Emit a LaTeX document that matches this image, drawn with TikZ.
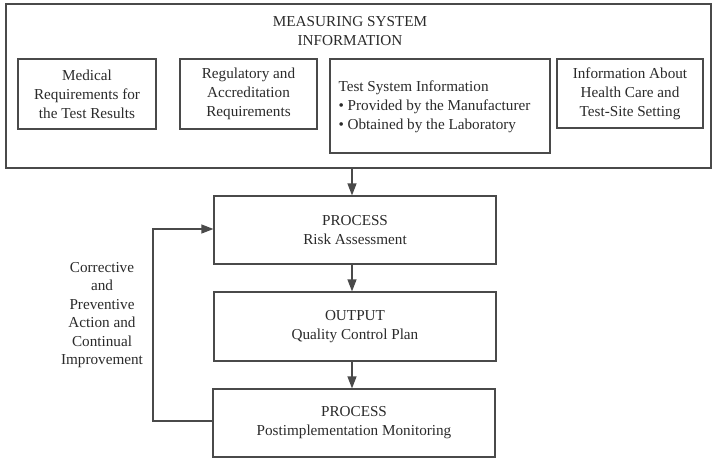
\documentclass[tikz,border=0pt]{standalone}
\usepackage{fontspec}
\setmainfont{Liberation Serif}
\usetikzlibrary{arrows.meta}
\definecolor{ln}{HTML}{4A4A4A}
\definecolor{tx}{HTML}{2A2A2A}
\begin{document}
\begin{tikzpicture}[x=1pt,y=-1pt,
  box/.style={draw=ln,line width=1.2pt,text=tx,align=center,inner sep=0pt,font=\fontsize{15.2}{19}\selectfont},
  lbl/.style={text=tx,align=center,font=\fontsize{15.2}{19}\selectfont},
  conn/.style={draw=ln,line width=1.2pt,-{Triangle[length=12pt,width=9pt]}}]
\useasboundingbox (0,0) rectangle (718,461);
% outer frame
\node[box,minimum width=705,minimum height=164] (outer) at (358.5,86) {};
\node[lbl] (title) at (350,31) {MEASURING SYSTEM\\INFORMATION};
\node[box,minimum width=138,minimum height=70] (med) at (87,94) {Medical\\Requirements for\\the Test Results};
\node[box,minimum width=137,minimum height=70] (reg) at (248.5,94) {Regulatory and\\Accreditation\\Requirements};
\node[box,minimum width=220,minimum height=94] (tsi) at (440,106) {};
\node[lbl,align=left,anchor=north west] (tsitext) at (335,77) {Test System Information\\
\textbullet\ Provided by the Manufacturer\\
\textbullet\ Obtained by the Laboratory};
\node[box,minimum width=146,minimum height=69] (hc) at (630,93.5) {Information About\\Health Care and\\Test-Site Setting};
% process column
\node[box,minimum width=282,minimum height=68] (p1) at (355,230) {PROCESS\\Risk Assessment};
\node[box,minimum width=282,minimum height=69] (out) at (355,326.5) {OUTPUT\\Quality Control Plan};
\node[box,minimum width=282,minimum height=68] (p2) at (354,423) {PROCESS\\Postimplementation Monitoring};
\coordinate (fb1) at (153,421);
\coordinate (fb2) at (153,229);
\node[lbl,font=\fontsize{15.2}{18.5}\selectfont] (fbl) at (102,315) {Corrective\\and\\Preventive\\Action and\\Continual\\Improvement};
% connectors
\draw[conn] (outer.south -| 352,0) -- (p1.north -| 352,0);
\draw[conn] (p1.south -| 352,0) -- (out.north -| 352,0);
\draw[conn] (out.south -| 352,0) -- (p2.north -| 352,0);
\draw[conn] (p2.west |- fb1) -- (fb1) -- (fb2) -- (p1.west |- fb2);
\end{tikzpicture}
\end{document}
